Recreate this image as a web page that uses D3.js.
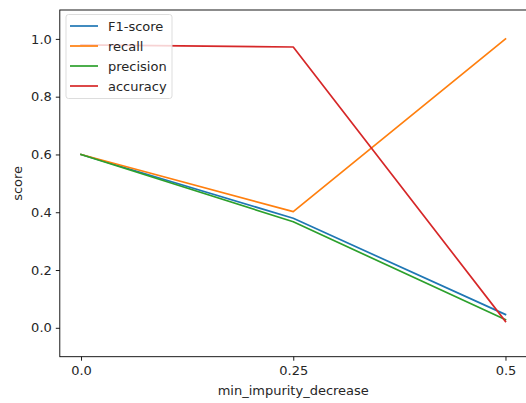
<!DOCTYPE html>
<html><head><meta charset="utf-8">
<script src="https://cdn.jsdelivr.net/npm/d3@7"></script>
<style>body{margin:0;background:#fff}svg{display:block}text{font-family:"DejaVu Sans",sans-serif;fill:#262626}</style>
</head><body><svg id="c" width="526" height="403"></svg>
<script>
const xValues = [0, 0.25, 0.5];
const xTickLabels = ["0.0", "0.25", "0.5"];
const yTicks = [0.0, 0.2, 0.4, 0.6, 0.8, 1.0];
const f1Score = [0.6, 0.379, 0.046];
const recall = [0.6, 0.402, 1.0];
const precision = [0.6, 0.367, 0.028];
const accuracy = [0.979, 0.972, 0.022];
const seriesNames = ["F1-score", "recall", "precision", "accuracy"];
const seriesColors = ["#1f77b4", "#ff7f0e", "#2ca02c", "#d62728"];
const series = [f1Score, recall, precision, accuracy];

const FS = "13px";
const svg = d3.select("#c");
const L = 59.8, R = 526.7, T = 10, B = 356.7;
const x = d3.scaleLinear().domain([-0.025, 0.525]).range([L, R]);
const y = d3.scaleLinear().domain([-0.1, 1.1]).range([B, T]);

const line = d3.line().x((d, i) => x(xValues[i])).y(d => y(d));
series.forEach((s, k) => {
  svg.append("path").datum(s).attr("d", line).attr("fill", "none")
    .attr("stroke", seriesColors[k]).attr("stroke-width", 1.7)
    .attr("stroke-linejoin", "round").attr("stroke-linecap", "square");
});

const xAxis = d3.axisBottom(x).tickValues(xValues).tickFormat((d, i) => xTickLabels[i]).tickSize(4).tickPadding(5);
const gx = svg.append("g").attr("transform", `translate(0,${B})`).call(xAxis);
const yAxis = d3.axisLeft(y).tickValues(yTicks).tickFormat(d3.format(".1f")).tickSize(4).tickPadding(4);
const gy = svg.append("g").attr("transform", `translate(${L},0)`).call(yAxis);
[gx, gy].forEach(g => {
  g.select(".domain").remove();
  g.selectAll("line").attr("stroke", "#000").attr("stroke-width", 0.9);
  g.selectAll("text").attr("font-size", FS).attr("fill", "#262626").style("font-family", "DejaVu Sans");
});

// spines
svg.append("rect").attr("x", L).attr("y", T).attr("width", R - L).attr("height", B - T)
  .attr("fill", "none").attr("stroke", "#000").attr("stroke-width", 0.9);

svg.append("text").attr("x", (L + R) / 2).attr("y", 395).attr("text-anchor", "middle")
  .attr("font-size", FS).text("min_impurity_decrease");
svg.append("text").attr("transform", `translate(22,${(T + B) / 2}) rotate(-90)`).attr("text-anchor", "middle")
  .attr("font-size", FS).text("score");

// legend
const lg = svg.append("g");
lg.append("rect").attr("x", 66).attr("y", 14.5).attr("width", 106).attr("height", 84).attr("rx", 2.5)
  .attr("fill", "#fff").attr("fill-opacity", 0.8).attr("stroke", "#d9d9d9").attr("stroke-width", 0.9);
seriesNames.forEach((n, i) => {
  const yy = 26 + i * 20;
  lg.append("line").attr("x1", 70).attr("x2", 98).attr("y1", yy).attr("y2", yy)
    .attr("stroke", seriesColors[i]).attr("stroke-width", 1.7);
  lg.append("text").attr("x", 108).attr("y", yy + 4.5).attr("font-size", FS).text(n);
});
</script></body></html>
